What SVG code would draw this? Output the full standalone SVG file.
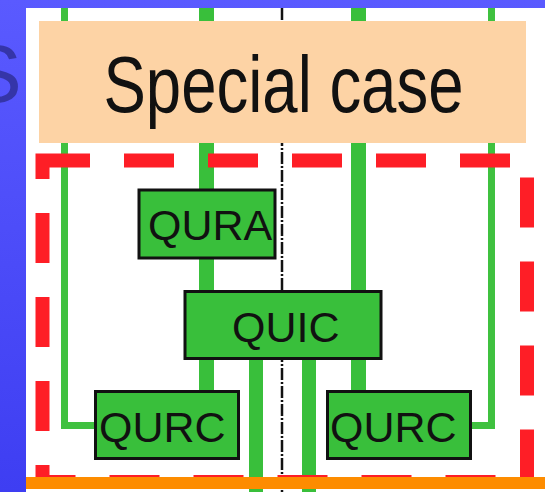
<svg xmlns="http://www.w3.org/2000/svg" width="545" height="492" viewBox="0 0 545 492">
  <defs>
    <linearGradient id="bg" x1="0" y1="0" x2="0" y2="1">
      <stop offset="0" stop-color="#5a5aff"/>
      <stop offset="1" stop-color="#3e3ef2"/>
    </linearGradient>
    <style>
      .node rect { fill: #39bf3b; stroke: #111; stroke-width: 3; }
      .node text { font-family: "Liberation Sans", Arial, sans-serif; font-size: 43px; fill: #111; }
      .thick { stroke: #39bf3b; stroke-width: 15; fill: none; }
      .mid { stroke: #39bf3b; stroke-width: 14; fill: none; }
      .thin { stroke: #3fc13f; stroke-width: 7; fill: none; }
      .axis { stroke: #111; stroke-width: 2.5; stroke-dasharray: 12 2 2 2; fill: none; }
    </style>
  </defs>

  <!-- background -->
  <rect x="0" y="0" width="545" height="492" fill="url(#bg)"/>
  <rect x="26" y="8" width="519" height="484" fill="#ffffff"/>
  <text x="-33" y="102" font-family="Liberation Sans, Arial, sans-serif" font-size="82" fill="#3535a8">S</text>

  <!-- connectors -->
  <g id="connectors">
    <line class="axis" x1="282" y1="8" x2="282" y2="492"/>
    <polyline class="thin" points="64.5,8 64.5,425.5 96,425.5"/>
    <polyline class="thin" points="491.5,8 491.5,425.5 470,425.5"/>
    <line class="thick" x1="206.5" y1="8" x2="206.5" y2="392"/>
    <line class="thick" x1="358.5" y1="8" x2="358.5" y2="392"/>
    <line class="mid" x1="256" y1="358" x2="256" y2="492"/>
    <line class="mid" x1="309" y1="358" x2="309" y2="492"/>
  </g>

  <!-- special case box -->
  <g id="special-case">
    <rect x="39" y="21" width="487" height="122" fill="#fdd3a5"/>
    <text x="103.5" y="111.5" font-family="Liberation Sans, Arial, sans-serif" font-size="79" fill="#111" textLength="360" lengthAdjust="spacingAndGlyphs">Special case</text>
  </g>

  <!-- red dashed frame -->
  <g id="frame">
    <rect x="42.5" y="160.5" width="484.5" height="321.5" fill="none" stroke="#fe1e26" stroke-width="14" stroke-dasharray="50 34" stroke-dashoffset="2.5"/>
  </g>

  <g id="qura" class="node">
    <rect x="139" y="190" width="136" height="68"/>
    <text x="148" y="240">QURA</text>
  </g>

  <g id="quic" class="node">
    <rect x="185" y="291.5" width="196" height="67"/>
    <text x="232" y="341.5">QUIC</text>
  </g>

  <g id="qurc-left" class="node">
    <rect x="95.5" y="391.5" width="143" height="67"/>
    <text x="99" y="441.5">QURC</text>
  </g>

  <g id="qurc-right" class="node">
    <rect x="327.5" y="391.5" width="143" height="67"/>
    <text x="330" y="441.5">QURC</text>
  </g>

  <!-- orange baseline -->
  <g id="baseline">
    <rect x="26" y="477" width="519" height="12" fill="#fd8c00"/>
  </g>
</svg>
